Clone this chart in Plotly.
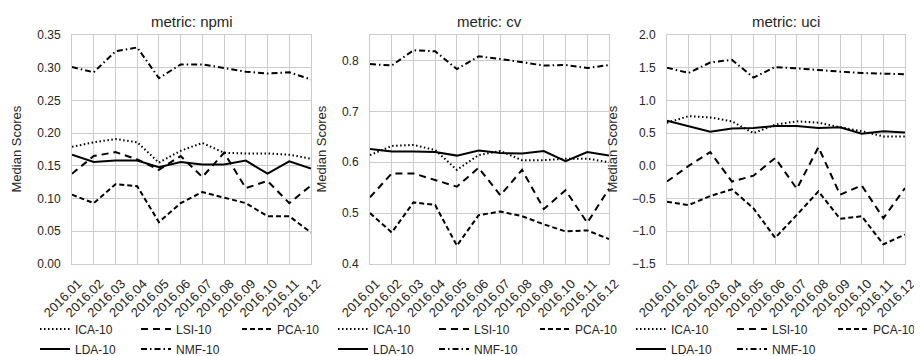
import plotly.graph_objects as go

months = ["2016.01", "2016.02", "2016.03", "2016.04", "2016.05", "2016.06",
          "2016.07", "2016.08", "2016.09", "2016.10", "2016.11", "2016.12"]
metrics = ["npmi", "cv", "uci"]
models = ["ICA-10", "LSI-10", "PCA-10", "LDA-10", "NMF-10"]

# npmi
npmi_ica = [0.179, 0.186, 0.191, 0.186, 0.155, 0.173, 0.185, 0.170, 0.169, 0.169, 0.167, 0.161]
npmi_lsi = [0.138, 0.165, 0.171, 0.160, 0.144, 0.165, 0.133, 0.170, 0.116, 0.127, 0.093, 0.120]
npmi_pca = [0.106, 0.093, 0.122, 0.119, 0.064, 0.093, 0.110, 0.101, 0.093, 0.073, 0.073, 0.048]
npmi_lda = [0.167, 0.156, 0.158, 0.158, 0.148, 0.156, 0.152, 0.152, 0.158, 0.138, 0.157, 0.146]
npmi_nmf = [0.301, 0.293, 0.325, 0.331, 0.284, 0.305, 0.305, 0.300, 0.294, 0.291, 0.293, 0.282]

# cv
cv_ica = [0.614, 0.632, 0.634, 0.624, 0.585, 0.614, 0.622, 0.604, 0.604, 0.607, 0.607, 0.600]
cv_lsi = [0.531, 0.578, 0.578, 0.565, 0.552, 0.589, 0.535, 0.585, 0.508, 0.545, 0.481, 0.548]
cv_pca = [0.500, 0.462, 0.521, 0.516, 0.436, 0.496, 0.503, 0.494, 0.478, 0.464, 0.466, 0.449]
cv_lda = [0.626, 0.621, 0.621, 0.620, 0.613, 0.623, 0.618, 0.617, 0.622, 0.602, 0.620, 0.613]
cv_nmf = [0.793, 0.790, 0.820, 0.818, 0.783, 0.808, 0.803, 0.797, 0.790, 0.791, 0.785, 0.791]

# uci
uci_ica = [0.66, 0.76, 0.74, 0.68, 0.50, 0.63, 0.68, 0.66, 0.59, 0.53, 0.45, 0.45]
uci_lsi = [-0.24, 0.00, 0.21, -0.24, -0.15, 0.12, -0.35, 0.285, -0.44, -0.30, -0.80, -0.34]
uci_pca = [-0.55, -0.60, -0.46, -0.36, -0.65, -1.10, -0.75, -0.39, -0.81, -0.77, -1.20, -1.05]
uci_lda = [0.69, 0.61, 0.52, 0.57, 0.58, 0.61, 0.61, 0.58, 0.59, 0.49, 0.53, 0.51]
uci_nmf = [1.50, 1.42, 1.58, 1.62, 1.35, 1.51, 1.49, 1.46, 1.44, 1.42, 1.41, 1.40]

panel_data = {
    "npmi": [npmi_ica, npmi_lsi, npmi_pca, npmi_lda, npmi_nmf],
    "cv": [cv_ica, cv_lsi, cv_pca, cv_lda, cv_nmf],
    "uci": [uci_ica, uci_lsi, uci_pca, uci_lda, uci_nmf],
}

y_ranges = {"npmi": [0, 0.35], "cv": [0.4, 0.85], "uci": [-1.5, 2.0]}
y_ticks = {
    "npmi": [0.0, 0.05, 0.10, 0.15, 0.20, 0.25, 0.30, 0.35],
    "cv": [0.4, 0.5, 0.6, 0.7, 0.8],
    "uci": [-1.5, -1.0, -0.5, 0.0, 0.5, 1.0, 1.5, 2.0],
}
y_fmt = {"npmi": ".2f", "cv": ".1f", "uci": ".1f"}

dashes = {
    "ICA-10": "1.5px,2.5px",
    "LSI-10": "7px,5px",
    "PCA-10": "5px,3px",
    "LDA-10": "solid",
    "NMF-10": "6px,3px,1.5px,3px",
}

W, H = 922, 356
FONT = "Liberation Sans, Arial, sans-serif"
TXT = "#262626"
GRID = "#cccccc"

x_px = [(64, 303), (362, 601), (659, 897)]
y_px = (27, 256)
ylab_px = [8, 313, 604]
leg_x = [27, 325, 623]
row_y = [321, 341]

fig = go.Figure()
layout = dict(
    width=W, height=H,
    margin=dict(l=0, r=0, t=0, b=0, pad=0, autoexpand=False),
    paper_bgcolor="white", plot_bgcolor="white",
    font=dict(family=FONT, size=12, color=TXT),
    annotations=[],
)

for i, m in enumerate(metrics):
    ax = "" if i == 0 else str(i + 1)
    for j, name in enumerate(models):
        row = 0 if j < 3 else 1
        leg_idx = i * 2 + row + 1
        leg_name = "legend" if leg_idx == 1 else f"legend{leg_idx}"
        fig.add_trace(go.Scatter(
            x=months, y=panel_data[m][j], mode="lines", name=name,
            line=dict(color="black", width=2, dash=dashes[name]),
            xaxis="x" + ax, yaxis="y" + ax, legend=leg_name,
            showlegend=True,
        ))
    x0, x1 = x_px[i]
    layout["xaxis" + ax] = dict(
        domain=[x0 / W, x1 / W], anchor="y" + ax,
        type="category", range=[0, 11],
        showgrid=True, gridcolor=GRID, gridwidth=1,
        showline=True, linecolor=GRID, linewidth=1, mirror=True,
        tickangle=-45, tickfont=dict(size=13, color=TXT),
        ticklabelshift=6, ticklabelstandoff=6,
        zeroline=False, fixedrange=True, automargin=False,
    )
    layout["yaxis" + ax] = dict(
        domain=[1 - y_px[1] / H, 1 - y_px[0] / H], anchor="x" + ax,
        range=y_ranges[m], tickvals=y_ticks[m], tickformat=y_fmt[m],
        showgrid=True, gridcolor=GRID, gridwidth=1,
        showline=True, linecolor=GRID, linewidth=1, mirror=True,
        tickfont=dict(size=12, color=TXT), ticklabelstandoff=8,
        zeroline=False, fixedrange=True, automargin=False,
    )
    layout["annotations"].append(dict(
        text=f"metric: {m}", xref=f"x{ax} domain", yref=f"y{ax} domain",
        x=0.5, y=1, yshift=3, xanchor="center", yanchor="bottom",
        showarrow=False, font=dict(size=15, color=TXT),
    ))
    layout["annotations"].append(dict(
        text="Median Scores", xref=f"x{ax} domain", yref=f"y{ax} domain",
        x=0, y=0.5, xshift=-(x0 - ylab_px[i]), xanchor="center", yanchor="middle",
        textangle=-90, showarrow=False, font=dict(size=13, color=TXT),
    ))
    for row in range(2):
        leg_idx = i * 2 + row + 1
        leg_name = "legend" if leg_idx == 1 else f"legend{leg_idx}"
        layout[leg_name] = dict(
            x=leg_x[i] / W, y=1 - row_y[row] / H, xanchor="left", yanchor="middle",
            orientation="h", entrywidth=56, entrywidthmode="pixels",
            bgcolor="rgba(0,0,0,0)", borderwidth=0,
            font=dict(size=12, color=TXT), tracegroupgap=0,
        )

fig.update_layout(**layout)
fig.write_html("out.html")
